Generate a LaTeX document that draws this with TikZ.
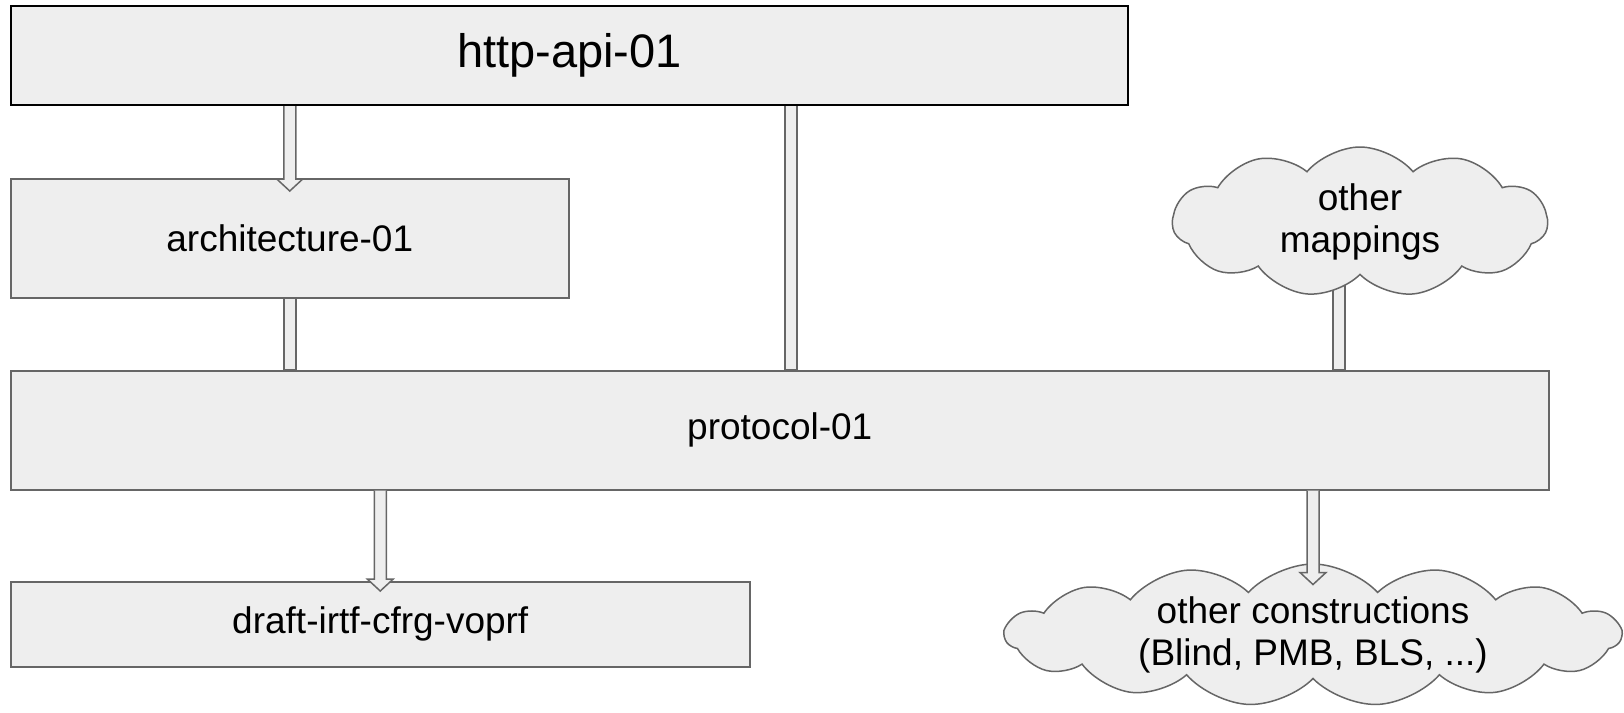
\documentclass[tikz,border=0pt]{standalone}
\usepackage{fontspec}
\setmainfont{Liberation Sans}
\usetikzlibrary{shapes.symbols,calc,backgrounds}
\definecolor{boxfill}{RGB}{238,238,238}
\definecolor{boxline}{RGB}{102,102,102}

\tikzset{
  box/.style={draw=boxline, line width=1.5pt, fill=boxfill, rectangle,
              anchor=north west, inner sep=0pt, font=\fontsize{37}{42}\selectfont},
  idea/.style={cloud, cloud puffs=10, cloud puff arc=100, cloud ignores aspect,
               draw=boxline, line width=1.5pt, fill=boxfill, align=center,
               inner xsep=0pt, inner ysep=-14pt, font=\fontsize{37}{42}\selectfont},
  blockarrow/.style={draw=boxline, line width=1.5pt, fill=boxfill,
    to path={let \p1=(\tikztostart), \p2=(\tikztotarget) in
      (\x1-6pt,\y1) -- (\x1-6pt,\y2+12pt) -- (\x1-13pt,\y2+12pt) -- (\x1,\y2)
      -- (\x1+13pt,\y2+12pt) -- (\x1+6pt,\y2+12pt) -- (\x1+6pt,\y1)}},
  bar/.style={draw=boxline, line width=1.5pt, fill=boxfill,
    to path={let \p1=(\tikztostart), \p2=(\tikztotarget) in
      (\x1-6pt,\y1) -- (\x1-6pt,\y2) -- (\x1+6pt,\y2) -- (\x1+6pt,\y1)}},
}

\begin{document}
\begin{tikzpicture}[x=1pt, y=-1pt]
  \useasboundingbox (0,0) rectangle (1624,712);

  \node[box, draw=black, line width=2pt, minimum width=1117pt, minimum height=99pt,
        font=\fontsize{47}{52}\selectfont] (http) at (10,5) {http-api-01};
  \node[box, minimum width=558pt, minimum height=119pt] (arch) at (10,178) {architecture-01};
  \node[box, minimum width=1538pt, minimum height=119pt] (proto) at (10,370) {protocol-01};
  \node[box, minimum width=739pt, minimum height=85pt] (draft) at (10,581) {draft-irtf-cfrg-voprf};
  \node[idea, cloud puffs=11, minimum width=375pt, minimum height=150pt] (maps) at (1360,222)
       {other\\mappings};
  \node[idea, cloud puffs=15, cloud puff arc=95, minimum width=616pt, minimum height=142pt]
       (cons) at (1313,635) {other constructions\\(Blind, PMB, BLS, ...)};

  \coordinate (split) at ([xshift=221.5pt]http.south);
  \coordinate (tap) at ([xshift=-21pt]maps.center);
  \coordinate (drop) at ($(cons.north |- proto.south)+(0,94)$);

  \begin{scope}[on background layer]
    \draw[bar] (tap) to (tap |- proto.north);
  \end{scope}

  \draw[blockarrow] (arch.north |- http.south) to ([yshift=-13pt]arch.north);
  \draw[bar] (arch.south) to (arch.south |- proto.north);
  \draw[bar] (split) to (split |- proto.north);
  \draw[blockarrow] (draft.north |- proto.south) to ([yshift=-10pt]draft.north);
  \draw[blockarrow] (cons.north |- proto.south) to (drop);
\end{tikzpicture}
\end{document}
